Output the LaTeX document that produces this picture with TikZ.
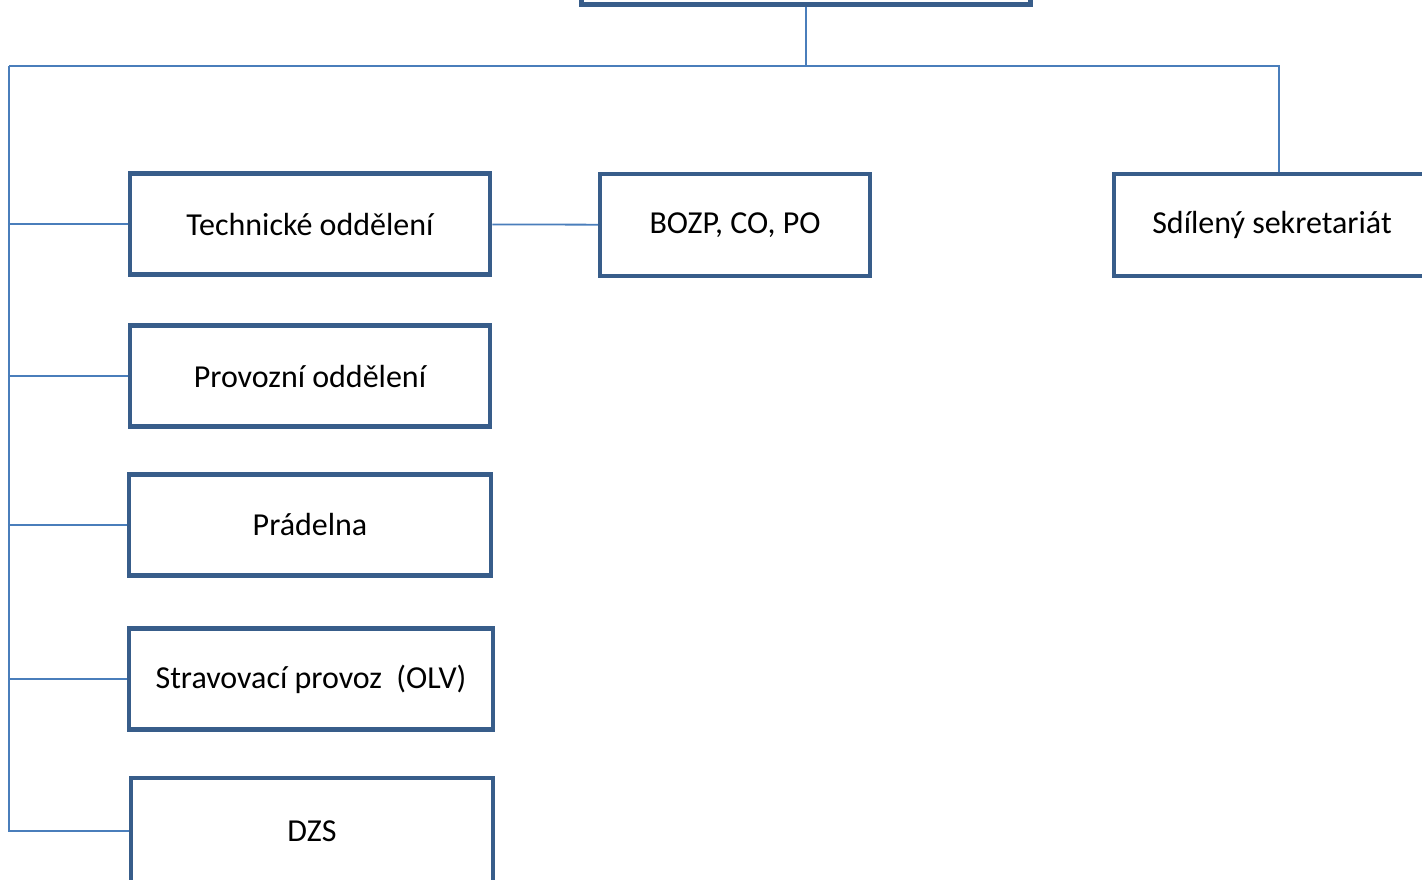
\documentclass[tikz,border=0pt]{standalone}
\usepackage{fontspec}
\setmainfont{Carlito}
\usetikzlibrary{positioning}
\definecolor{boxblue}{HTML}{385D8A}
\definecolor{lineblue}{HTML}{4A7EBB}

\begin{document}
\begin{tikzpicture}[x=1pt,y=-1pt,node distance=152pt]
        % Define styles
        \tikzstyle{unit} = [rectangle, draw=boxblue, line width=4.5pt,
            minimum width=360pt, minimum height=101pt, inner sep=0pt,
            font=\fontsize{32}{38}\selectfont]
        \tikzstyle{link} = [draw=lineblue, line width=1.8pt]

        \useasboundingbox (0,0) rectangle (1422,880);
        \clip (0,0) rectangle (1422,880);

        % Nodes
        \node [unit, minimum width=449pt] (head) at (806,-46) {};
        \node [unit] (tech) at (310,224) {Technické oddělení};
        \node [unit, below of=tech] (prov) {Provozní oddělení};
        \node [unit, below of=prov, minimum width=362pt, yshift=3pt] (prad) {Prádelna};
        \node [unit, below of=prad, minimum width=364pt, xshift=1pt, yshift=-2pt] (strav) {Stravovací provoz~\ (OLV)};
        \node [unit, below of=strav, minimum width=362pt, minimum height=106pt, xshift=1pt] (dzs) {DZS};
        \node [unit, minimum width=270pt, minimum height=102pt] (bozp) at (735,225) {BOZP, CO, PO};
        \node [unit, minimum width=316pt, minimum height=102pt] (sekr) at (1272,225) {Sdílený sekretariát};

        \coordinate (busL) at (9,66);
        \coordinate (busR) at (1279,66);

        % Lines
        \draw [link] (head) -- (head |- busL);
        \draw [link] (busL) -- (busR) -- (busR |- sekr.north);
        \draw [link] (busL) -- (busL |- dzs.west) -- (dzs.west);
        \foreach \n in {tech,prov,prad,strav}
            \draw [link] (busL |- \n.west) -- (\n.west);
        \draw [link] (tech) -- (bozp);

    \end{tikzpicture}
\end{document}
